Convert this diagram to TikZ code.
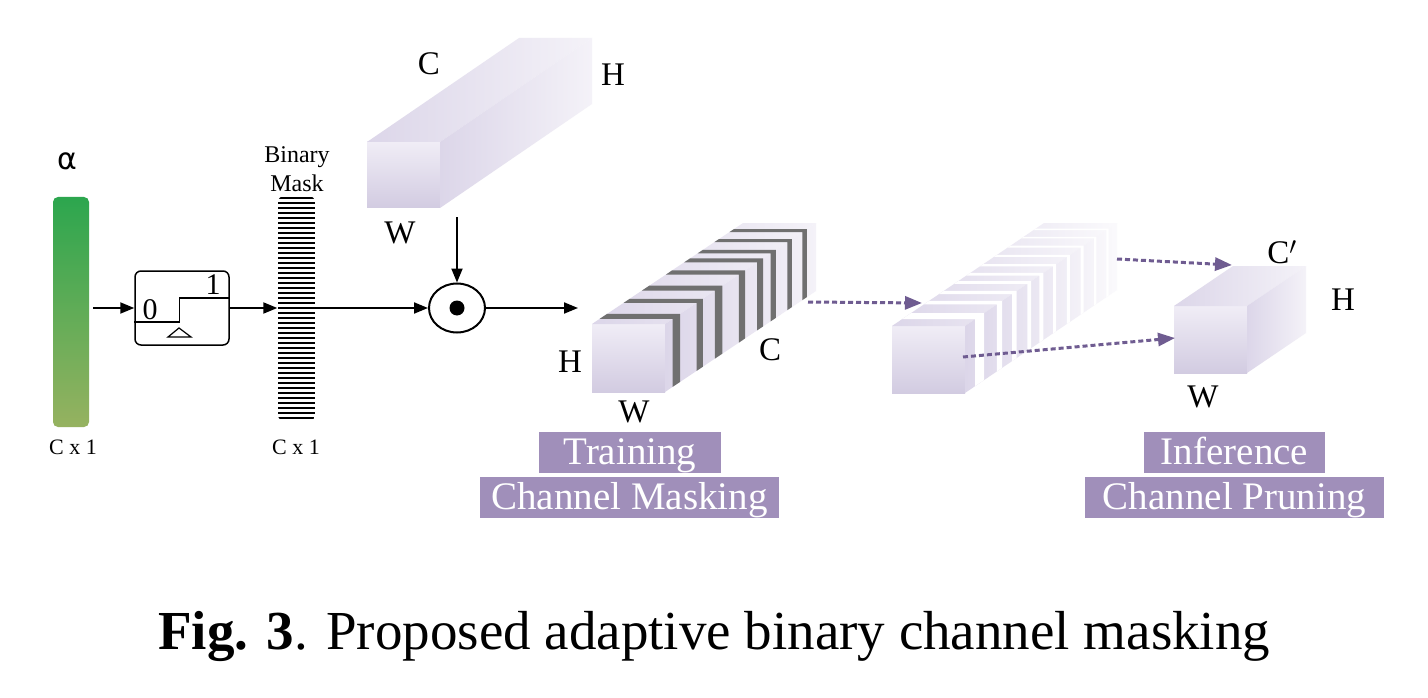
\documentclass[tikz,border=0pt]{standalone}
\usepackage{fontspec}
\setmainfont{Liberation Serif}
\newfontfamily\greekfont{DejaVu Sans}
\usetikzlibrary{arrows.meta,shapes.geometric}

\definecolor{alphatop}{RGB}{44,166,78}
\definecolor{alphabot}{RGB}{150,178,96}
\definecolor{lavfront}{RGB}{240,237,246}
\definecolor{lavdark}{RGB}{210,203,225}
\definecolor{lavside}{RGB}{220,214,233}
\definecolor{lavpale}{RGB}{244,242,248}
\definecolor{maskgray}{RGB}{112,112,112}
\definecolor{dotpurple}{RGB}{111,92,145}
\definecolor{tagpurple}{RGB}{160,143,186}

% front face at (#1,#2), size #3 x #4, depth (#5,#6)
\newcommand\tensorblock[6]{%
  \begin{scope}[shift={(#1,#2)}]
    \shade[frontface] (0,0) rectangle (#3,#4);
    \shade[topface] (0,0) -- (#3,0) -- ({#3+#5},#6) -- (#5,#6) -- cycle;
    \shade[sideface] (#3,0) -- ({#3+#5},#6) -- ({#3+#5},{#4+(#6)}) -- (#3,#4) -- cycle;
  \end{scope}}

\begin{document}
\begin{tikzpicture}[x=1pt, y=-1pt,
    arrow/.style={line width=2pt, -{Triangle[length=14pt,width=11pt]}},
    dotarrow/.style={dotpurple, line width=3pt, dash pattern=on 5pt off 3pt, -{Triangle[length=17pt,width=13pt]}},
    frontface/.style={top color=lavfront, bottom color=lavdark},
    topface/.style={left color=lavside, right color=lavpale},
    sideface/.style={left color=lavside, right color=lavpale},
    tag/.style={fill=tagpurple, text=white, font=\fontsize{39}{39}\selectfont, minimum height=41pt, inner sep=0pt, text height=26pt, text depth=3pt},
    dim/.style={font=\fontsize{33}{33}\selectfont, inner sep=0pt},
    small/.style={font=\fontsize{22}{22}\selectfont, inner sep=0pt}]

    \useasboundingbox[fill=white] (0,0) rectangle (1428,698);

    % alpha and step function
    \node[rounded corners=5pt, minimum width=36pt, minimum height=230pt, top color=alphatop, bottom color=alphabot] (alpha) at (71,312) {};
    \node[font=\greekfont\fontsize{30}{30}\selectfont, inner sep=0pt] (alphalabel) at (67,161) {α};
    \node[small] (alphasize) at (73,447) {C x 1};

    \node[draw, line width=1.5pt, rounded corners=6pt, minimum width=94pt, minimum height=74pt] (step) at (182,308) {};
    \draw[line width=1.5pt] ([yshift=-14pt]step.west) -- ++(45,0) -- ++(0,-24) -- ([yshift=10pt]step.east);
    \draw[line width=1.2pt] (168,337) -- (179,328) -- (191,337) -- cycle;
    \node[font=\fontsize{30}{30}\selectfont, inner sep=0pt] (zero) at (150,310) {0};
    \node[font=\fontsize{30}{30}\selectfont, inner sep=0pt] (one) at (213,285) {1};

    % binary mask
    \node[minimum width=37pt, minimum height=226pt, inner sep=0pt] (mask) at (296,308) {};
    \begin{scope}
        \clip[rounded corners=6pt] (278,196) rectangle (315,421);
        \foreach \i in {0,...,44}
            \draw[line width=2.6pt] (278,{198+5*\i}) -- (315,{198+5*\i});
    \end{scope}
    \node[font=\fontsize{24}{24}\selectfont, inner sep=0pt] (binary) at (297,157) {Binary};
    \node[font=\fontsize{24}{24}\selectfont, inner sep=0pt] (masklabel) at (297,183) {Mask};
    \node[small] (masksize) at (296,447) {C x 1};

    % elementwise product
    \node[draw, ellipse, line width=2pt, minimum width=56pt, minimum height=49pt] (odot) at (457,308) {};
    \fill (odot.center) circle[radius=7.5];

    % input feature map
    \tensorblock{367}{142}{73}{66}{152}{-104}
    \node[dim] (topc) at (429,64) {C};
    \node[dim] (toph) at (613,75) {H};
    \node[dim] (topw) at (400,233) {W};

    % masked feature map
    \tensorblock{592}{324}{73}{68}{151}{-101}
    \begin{scope}[shift={(592,324)}]
        \foreach \a/\b in {0.05/0.10, 0.21/0.25, 0.33/0.38, 0.49/0.53, 0.61/0.65, 0.70/0.735, 0.81/0.84, 0.91/0.94}
            \fill[maskgray] ({\a*151},{\a*-101}) -- ({73+\a*151},{\a*-101}) -- ({73+\a*151},{68+\a*-101})
                -- ({73+\b*151},{68+\b*-101}) -- ({73+\b*151},{\b*-101}) -- ({\b*151},{\b*-101}) -- cycle;
    \end{scope}
    \node[dim] (trainh) at (570,362) {H};
    \node[dim] (trainc) at (770,350) {C};
    \node[dim] (trainw) at (634,412) {W};

    % channels split apart
    \begin{scope}[topface/.style={left color=lavside, right color=lavpale!40!white}, sideface/.style={left color=lavside, right color=lavpale!40!white}]
        \tensorblock{892}{326}{73}{67}{152}{-103}
    \end{scope}
    \begin{scope}[shift={(892,326)}]
        \foreach \a/\b in {0.066/0.125, 0.21/0.245, 0.31/0.34, 0.41/0.435, 0.49/0.515, 0.58/0.6, 0.67/0.69, 0.76/0.78, 0.85/0.865, 0.93/0.945}
            \fill[white] ({\a*152},{\a*-103}) -- ({73+\a*152},{\a*-103}) -- ({73+\a*152},{67+\a*-103})
                -- ({73+\b*152},{67+\b*-103}) -- ({73+\b*152},{\b*-103}) -- ({\b*152},{\b*-103}) -- cycle;
    \end{scope}

    % pruned feature map
    \tensorblock{1174}{306}{73}{67}{59}{-40}
    \node[dim] (cubec) at (1282,252) {C$'$};
    \node[dim] (cubeh) at (1343,300) {H};
    \node[dim] (cubew) at (1203,397) {W};

    % connectors
    \coordinate (topout) at (457,217);
    \coordinate (trainin) at (578,308);
    \coordinate (trainout) at (808,302);
    \coordinate (midin) at (922,303);
    \coordinate (midtop) at (1117,259);
    \coordinate (cubetop) at (1232,265);
    \coordinate (midfront) at (963,357);
    \coordinate (cubefront) at (1175,338);

    \draw[arrow] ([xshift=4pt]alpha.east |- step.west) -- (step.west);
    \draw[arrow] (step.east) -- (mask.west);
    \draw[arrow] (mask.east) -- (odot.west);
    \draw[arrow] (topout) -- (odot.north);
    \draw[arrow] (odot.east) -- (trainin);
    \draw[dotarrow] (trainout) -- (midin);
    \draw[dotarrow] (midtop) -- (cubetop);
    \draw[dotarrow] (midfront) -- (cubefront);

    % tags
    \node[tag, minimum width=182pt] (train) at (630,452.5) {Training};
    \node[tag, minimum width=299pt] (masking) at (629.5,497.5) {Channel Masking};
    \node[tag, minimum width=181pt] (infer) at (1234.5,452.5) {Inference};
    \node[tag, minimum width=299pt] (pruning) at (1234.5,497.5) {Channel Pruning};

    \node[anchor=base west, inner sep=0pt, font=\fontsize{55}{55}\selectfont] (caption) at (158,649) {\textbf{Fig. 3}. Proposed adaptive binary channel masking};
\end{tikzpicture}
\end{document}
